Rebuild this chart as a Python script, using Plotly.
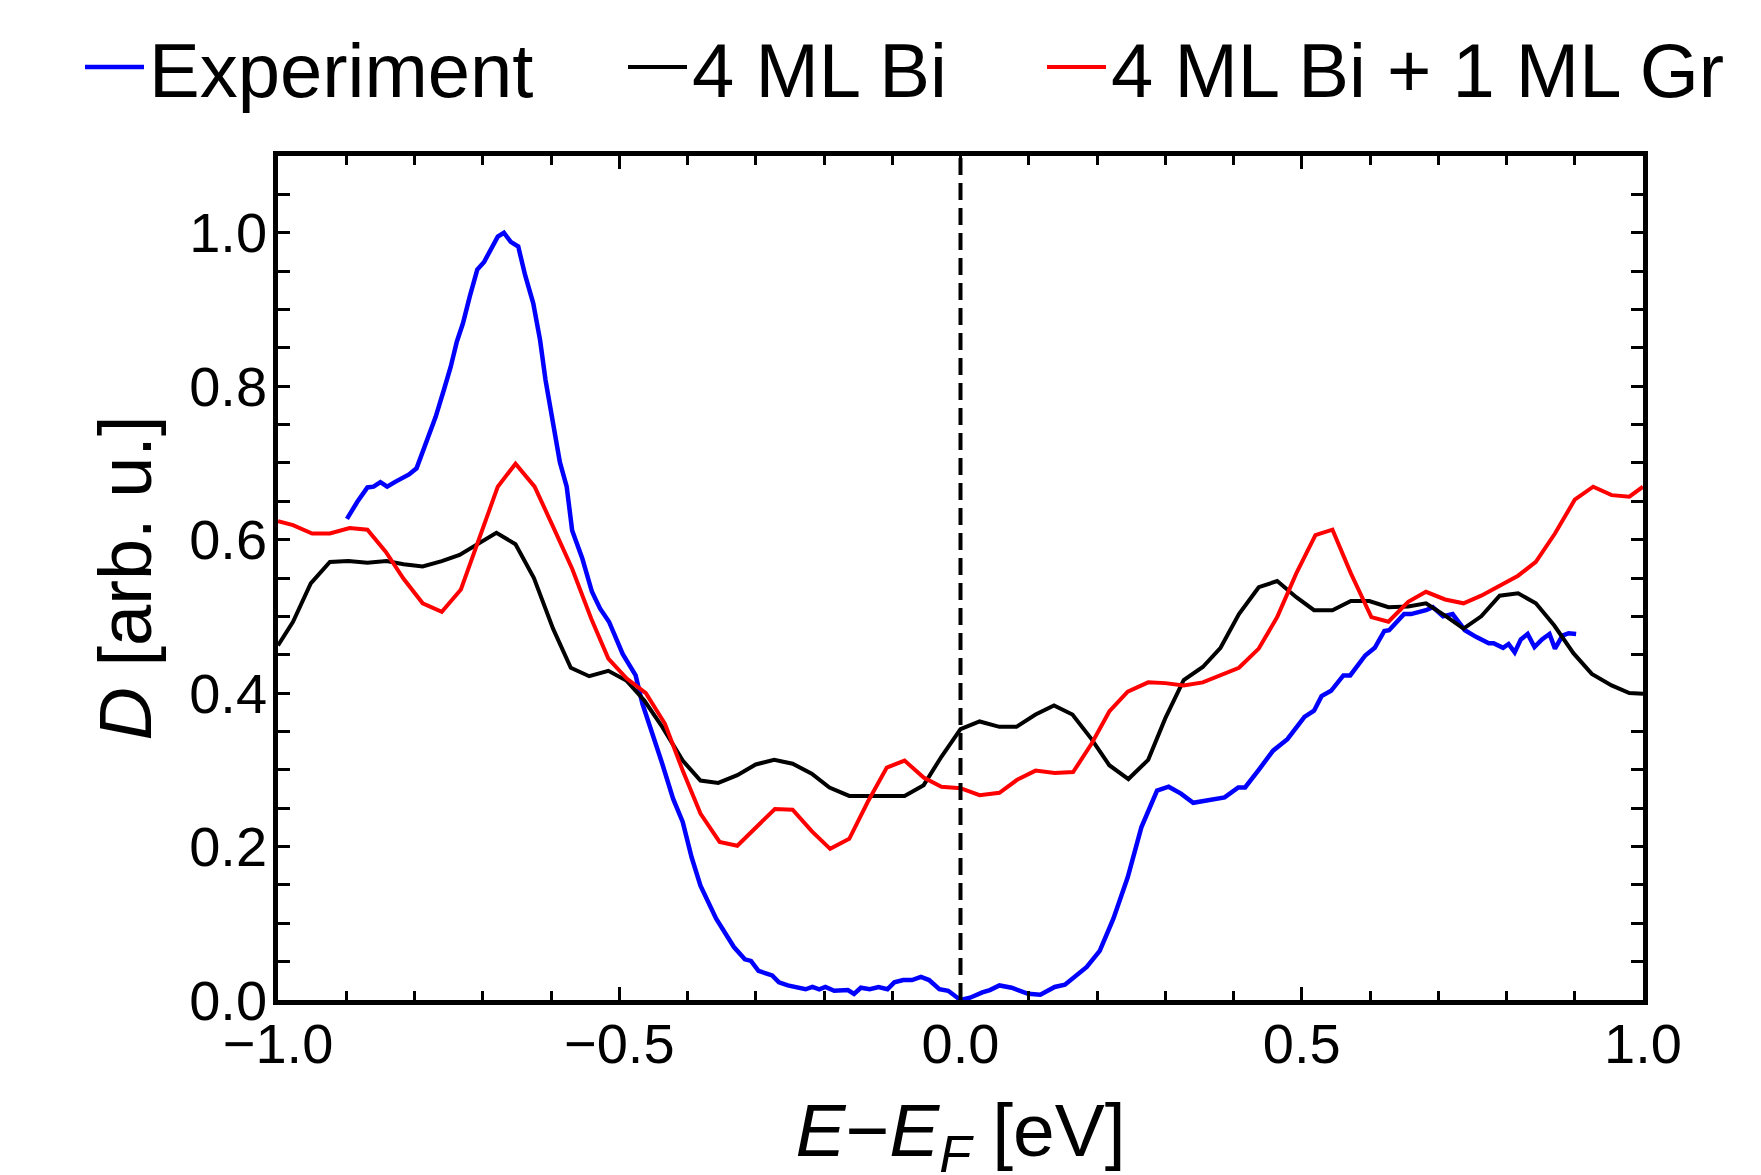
import plotly.graph_objects as go

# ---- data ----
exp_x = [-0.899, -0.884, -0.869, -0.860, -0.850, -0.840, -0.829, -0.816, -0.808, -0.797, -0.786, -0.769,
         -0.757, -0.747, -0.738, -0.729, -0.719, -0.708, -0.698, -0.688, -0.678, -0.669, -0.659, -0.648,
         -0.638, -0.626, -0.616, -0.608, -0.600, -0.587, -0.577, -0.569, -0.554, -0.540, -0.528, -0.515,
         -0.495, -0.476, -0.466, -0.450, -0.437, -0.421, -0.407, -0.394, -0.381, -0.358, -0.332, -0.316,
         -0.307, -0.296, -0.276, -0.266, -0.253, -0.227, -0.217, -0.207, -0.198, -0.185, -0.165, -0.156,
         -0.146, -0.133, -0.120, -0.107, -0.097, -0.084, -0.071, -0.058, -0.046, -0.031, -0.018, 0.0,
         0.014, 0.032, 0.043, 0.057, 0.075, 0.099, 0.117, 0.138, 0.153, 0.185, 0.204, 0.224, 0.245,
         0.265, 0.288, 0.305, 0.323, 0.341, 0.359, 0.387, 0.407, 0.417, 0.437, 0.458, 0.479, 0.504,
         0.518, 0.529, 0.543, 0.561, 0.571, 0.593, 0.607, 0.621, 0.628, 0.650, 0.660, 0.682, 0.692,
         0.707, 0.721, 0.739, 0.756, 0.774, 0.781, 0.795, 0.803, 0.812, 0.821, 0.831, 0.841, 0.852,
         0.863, 0.871, 0.882, 0.891, 0.902]
exp_y = [0.627, 0.649, 0.668, 0.669, 0.675, 0.669, 0.675, 0.681, 0.685, 0.693, 0.719, 0.760,
         0.795, 0.825, 0.858, 0.882, 0.917, 0.952, 0.962, 0.980, 0.995, 1.000, 0.988, 0.982,
         0.945, 0.908, 0.860, 0.808, 0.764, 0.701, 0.669, 0.612, 0.575, 0.532, 0.510, 0.493,
         0.451, 0.423, 0.386, 0.345, 0.308, 0.262, 0.232, 0.186, 0.149, 0.106, 0.069, 0.053,
         0.051, 0.038, 0.032, 0.023, 0.019, 0.014, 0.017, 0.014, 0.017, 0.012, 0.013, 0.008,
         0.016, 0.014, 0.017, 0.014, 0.023, 0.026, 0.026, 0.030, 0.026, 0.014, 0.012, 0.0,
         0.003, 0.010, 0.013, 0.019, 0.016, 0.008, 0.007, 0.017, 0.020, 0.043, 0.064, 0.106, 0.160,
         0.225, 0.273, 0.278, 0.269, 0.257, 0.260, 0.264, 0.277, 0.277, 0.300, 0.325, 0.340, 0.369,
         0.377, 0.396, 0.403, 0.423, 0.423, 0.449, 0.459, 0.481, 0.482, 0.503, 0.503, 0.508, 0.512,
         0.500, 0.503, 0.482, 0.473, 0.465, 0.465, 0.459, 0.464, 0.453, 0.470, 0.477, 0.460, 0.470,
         0.477, 0.458, 0.475, 0.478, 0.477]

bi_x = [-1.0, -0.978, -0.952, -0.924, -0.897, -0.869, -0.841, -0.816, -0.788, -0.760, -0.734, -0.708,
        -0.680, -0.652, -0.625, -0.597, -0.571, -0.544, -0.516, -0.489, -0.463, -0.437, -0.407, -0.381,
        -0.355, -0.327, -0.300, -0.273, -0.246, -0.218, -0.192, -0.163, -0.136, -0.110, -0.082, -0.054,
        -0.028, 0.0, 0.028, 0.057, 0.082, 0.110, 0.137, 0.164, 0.192, 0.218, 0.246, 0.275, 0.300,
        0.327, 0.355, 0.381, 0.408, 0.437, 0.464, 0.492, 0.518, 0.545, 0.572, 0.599, 0.627, 0.656,
        0.682, 0.710, 0.737, 0.763, 0.790, 0.817, 0.843, 0.870, 0.898, 0.925, 0.954, 0.980, 1.0]
bi_y = [0.462, 0.493, 0.543, 0.571, 0.572, 0.570, 0.572, 0.568, 0.565, 0.572, 0.580, 0.594,
        0.609, 0.594, 0.550, 0.484, 0.433, 0.422, 0.429, 0.416, 0.390, 0.356, 0.312, 0.286,
        0.283, 0.293, 0.307, 0.313, 0.308, 0.295, 0.277, 0.266, 0.266, 0.266, 0.266, 0.280,
        0.317, 0.353, 0.363, 0.356, 0.356, 0.372, 0.384, 0.372, 0.340, 0.306, 0.288, 0.313, 0.367,
        0.417, 0.434, 0.459, 0.503, 0.538, 0.546, 0.525, 0.508, 0.508, 0.520, 0.520, 0.512, 0.513,
        0.517, 0.501, 0.484, 0.500, 0.527, 0.530, 0.517, 0.488, 0.452, 0.425, 0.410, 0.400, 0.399]

gr_x = [-1.0, -0.978, -0.950, -0.924, -0.895, -0.869, -0.842, -0.816, -0.788, -0.760, -0.732, -0.706,
        -0.678, -0.652, -0.624, -0.597, -0.569, -0.541, -0.516, -0.489, -0.461, -0.433, -0.407, -0.381,
        -0.353, -0.327, -0.300, -0.272, -0.246, -0.218, -0.191, -0.163, -0.136, -0.108, -0.082, -0.054,
        -0.028, 0.0, 0.028, 0.057, 0.083, 0.110, 0.138, 0.165, 0.192, 0.218, 0.245, 0.275, 0.300,
        0.327, 0.355, 0.381, 0.408, 0.437, 0.464, 0.492, 0.520, 0.545, 0.572, 0.602, 0.627, 0.656,
        0.682, 0.710, 0.737, 0.763, 0.790, 0.817, 0.843, 0.871, 0.900, 0.927, 0.954, 0.980, 1.0]
gr_y = [0.624, 0.619, 0.608, 0.608, 0.615, 0.613, 0.584, 0.549, 0.517, 0.506, 0.535, 0.601,
        0.669, 0.699, 0.669, 0.617, 0.562, 0.497, 0.445, 0.419, 0.400, 0.360, 0.299, 0.243,
        0.206, 0.201, 0.225, 0.249, 0.248, 0.220, 0.197, 0.210, 0.258, 0.303, 0.312, 0.290,
        0.278, 0.276, 0.267, 0.270, 0.287, 0.299, 0.296, 0.297, 0.334, 0.376, 0.402, 0.414, 0.413,
        0.410, 0.414, 0.423, 0.433, 0.458, 0.499, 0.556, 0.606, 0.613, 0.556, 0.499, 0.493, 0.519,
        0.532, 0.522, 0.517, 0.527, 0.540, 0.553, 0.571, 0.608, 0.652, 0.669, 0.658, 0.656, 0.669]

names = ["Experiment", "4 ML Bi", "4 ML Bi + 1 ML Gr"]
colors = ["#0000FF", "#000000", "#FF0000"]

FONT = "Liberation Sans, Arial, sans-serif"
W, H = 1761, 1175
OFF = 8  # page body margin offset

fig = go.Figure()
fig.add_trace(go.Scatter(x=exp_x, y=exp_y, mode="lines", name=names[0], legend="legend",
                         line=dict(color=colors[0], width=4.5)))
fig.add_trace(go.Scatter(x=bi_x, y=bi_y, mode="lines", name=names[1], legend="legend2",
                         line=dict(color=colors[1], width=4)))
fig.add_trace(go.Scatter(x=gr_x, y=gr_y, mode="lines", name=names[2], legend="legend3",
                         line=dict(color=colors[2], width=4)))

fig.add_shape(type="line", xref="x", yref="paper", x0=0, x1=0, y0=0, y1=1,
              line=dict(color="black", width=4, dash="17px,8px"))

leg_common = dict(orientation="h", xref="container", yref="container", xanchor="left",
                  y=1 - (67 - OFF) / H, yanchor="middle", font=dict(size=76, family=FONT),
                  bgcolor="rgba(0,0,0,0)", itemwidth=59)
fig.update_layout(
    legend=dict(x=(80 - OFF) / W, **leg_common),
    legend2=dict(x=(623 - OFF) / W, **leg_common),
    legend3=dict(x=(1042 - OFF) / W, **leg_common),
)

fig.update_layout(
    width=W, height=H,
    margin=dict(l=270, r=126, t=148, b=183, autoexpand=False),
    plot_bgcolor="white", paper_bgcolor="white",
    font=dict(family=FONT, color="black"),
    showlegend=True,
    xaxis=dict(range=[-1, 1], dtick=0.5, tick0=-1, tickformat=".1f", automargin=False,
               ticks="inside", ticklen=13, tickwidth=3, tickcolor="black",
               minor=dict(dtick=0.1, ticks="inside", ticklen=9, tickwidth=3, tickcolor="black"),
               showline=True, linewidth=4.5, linecolor="black", mirror="allticks",
               showgrid=False, zeroline=False, ticklabelstandoff=-9,
               tickfont=dict(size=56, family=FONT),
               title=dict(text="<i>E</i>\u2212<i>E</i><sub><i>F</i></sub> [eV]",
                          font=dict(size=75, family=FONT), standoff=62)),
    yaxis=dict(range=[0, 1.1], dtick=0.2, tick0=0, tickformat=".1f", automargin=False,
               ticks="inside", ticklen=12, tickwidth=3, tickcolor="black",
               minor=dict(dtick=0.05, ticks="inside", ticklen=12, tickwidth=3, tickcolor="black"),
               showline=True, linewidth=4.5, linecolor="black", mirror="allticks",
               showgrid=False, zeroline=False, ticklabelstandoff=-5,
               tickfont=dict(size=56, family=FONT),
               title=dict(text="<i>D</i> [arb. u.]", font=dict(size=74, family=FONT), standoff=15)),
)

fig.write_html("out.html")
